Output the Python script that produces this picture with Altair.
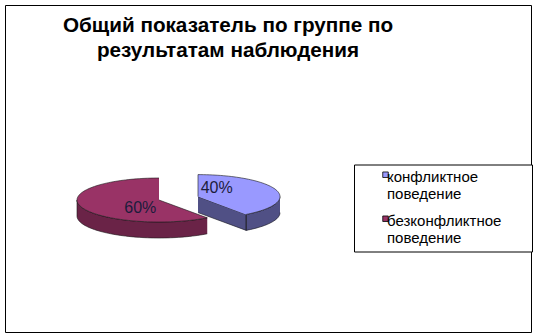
import math
import altair as alt
import pandas as pd

# ---- data ----
categories = ["конфликтное поведение", "безконфликтное поведение"]
values = [40, 60]
colors = ["#9999FF", "#993366"]
exploded = [True, False]
title_lines = ["Общий показатель по группе по", "результатам наблюдения"]

# ---- 3D pie geometry (layout, pixels) ----
CX, CY, RX, RY, DEPTH, EXPLODE = 159, 200, 82, 22, 16, 41

total = sum(values)
rows = []
lab_rows = []


def add(shape, kind, i, pts):
    for k, (px, py) in enumerate(pts):
        rows.append(dict(shape=shape, kind=kind, slice=i, category=categories[i],
                         idx=k, px=px, py=py))


start = 0.0
for i, (cat, v) in enumerate(zip(categories, values)):
    sweep = 360.0 * v / total
    a0, a1 = start, start + sweep
    start = a1
    mid = math.radians((a0 + a1) / 2)
    cx, cy = CX, CY
    if exploded[i]:
        cx += EXPLODE * math.sin(mid)
        cy -= EXPLODE * math.cos(mid) * RY / RX

    def pt(a, dz=0.0, cx=cx, cy=cy):
        r = math.radians(a)
        return (cx + RX * math.sin(r), cy - RY * math.cos(r) + dz)

    def arc(s, e, dz=0.0):
        n = max(2, int(abs(e - s) / 2) + 1)
        return [pt(s + (e - s) * k / (n - 1), dz) for k in range(n)]

    # top face
    add(f"top{i}", "top", i, [(cx, cy)] + arc(a0, a1))
    # outer wall (front half only)
    s, e = max(a0, 90.0), min(a1, 270.0)
    if e > s:
        add(f"wall{i}", "wall", i, arc(s, e) + arc(e, s, DEPTH))
    # radial cut faces that face the viewer
    for a, n in ((a0, a0 - 90), (a1, a1 + 90)):
        if math.cos(math.radians(n)) < -1e-6:
            add(f"cut{i}_{int(a)}", "wall", i,
                [(cx, cy), pt(a), pt(a, DEPTH), (cx, cy + DEPTH)])
    lab_rows.append(dict(label=f"{round(100 * v / total)}%",
                         lx=cx + 0.24 * RX * math.sin(mid),
                         ly=cy - 1.25 * RY * math.cos(mid)))

df = pd.DataFrame(rows)
ldf = pd.DataFrame(lab_rows)

xs = alt.Scale(domain=[5, 531], nice=False, zero=False)
ys = alt.Scale(domain=[5, 332], nice=False, zero=False, reverse=True)
cscale = alt.Scale(domain=categories, range=colors)

X = alt.X("px:Q", scale=xs, axis=None)
Y = alt.Y("py:Q", scale=ys, axis=None)
base = alt.Chart(df)

# trailing non-breaking spaces (closed by a zero-width space so they are not trimmed)
nb = "\u00a0" * 6 + "\u200b"
legend = alt.Legend(
    title=None, orient="none", legendX=349, legendY=159.5, direction="vertical",
    padding=5, strokeColor="black", fillColor="white",
    labelFont="Liberation Sans", labelFontSize=15, labelColor="black",
    labelExpr="[split(datum.label, ' ')[0] + '" + nb + "', split(datum.label, ' ')[1]]",
    symbolType="M4.6,-7.1H12.4V0.7H4.6Z", symbolSize=2, symbolStrokeColor="black",
    symbolStrokeWidth=0.8, symbolOffset=13, labelOffset=0, rowPadding=11,
)

walls = base.transform_filter(alt.datum.kind == "wall").mark_line(
    filled=True, strokeWidth=0
).encode(x=X, y=Y, order=alt.Order("idx:Q"), detail="shape:N",
         color=alt.Color("category:N", scale=cscale, legend=legend))

shade = base.transform_filter(alt.datum.kind == "wall").mark_line(
    filled=True, color="black", stroke="#1a1a1a", strokeWidth=0.6
).encode(x=X, y=Y, order=alt.Order("idx:Q"), detail="shape:N",
         fillOpacity=alt.condition(alt.datum.slice == 0, alt.value(0.48), alt.value(0.3)))

tops = base.transform_filter(alt.datum.kind == "top").mark_line(
    filled=True, stroke="#1a1a1a", strokeWidth=0.6
).encode(x=X, y=Y, order=alt.Order("idx:Q"), detail="shape:N",
         color=alt.Color("category:N", scale=cscale, legend=legend))

labels = alt.Chart(ldf).mark_text(
    font="Liberation Sans", fontSize=16, color="#1c1c3c", align="center", baseline="middle"
).encode(x=alt.X("lx:Q", scale=xs, axis=None), y=alt.Y("ly:Q", scale=ys, axis=None),
         text="label:N")

chart = alt.layer(walls, shade, tops, labels).properties(
    width=526, height=327,
    padding={"left": 5, "top": 5, "right": 4, "bottom": 3},
    autosize="none",
    background="white",
    title=alt.TitleParams(
        text=title_lines, font="Liberation Sans", fontSize=20.7, fontWeight="bold",
        color="black", anchor="middle", frame="group", dx=-40, dy=57,
        baseline="top", offset=0, lineHeight=25,
    ),
).configure_view(stroke="black", strokeWidth=1)

chart.save("out.html", embed_options={"renderer": "svg", "actions": False})
